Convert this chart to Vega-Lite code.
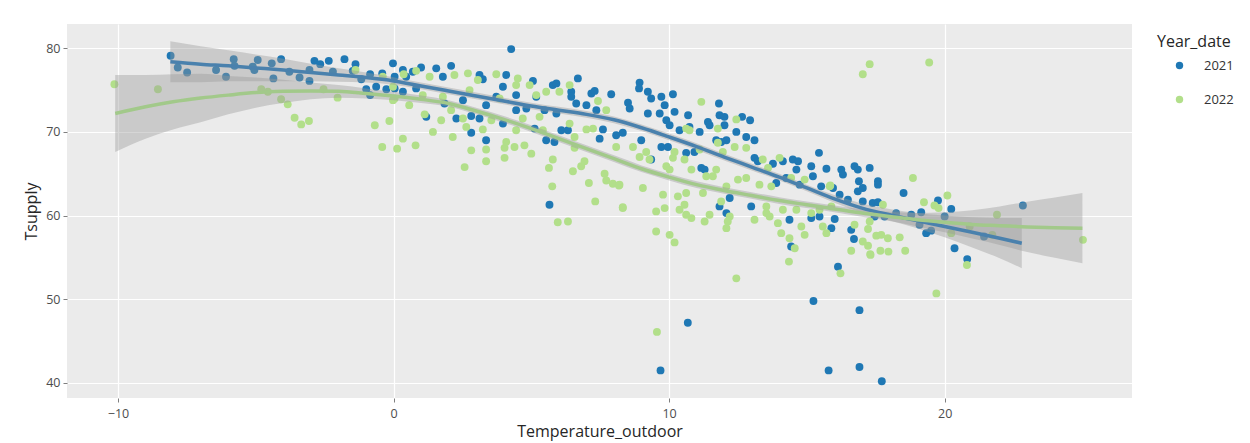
{
  "$schema": "https://vega.github.io/schema/vega-lite/v6.json",
  "width": 1065,
  "height": 374,
  "autosize": {"type": "none"},
  "padding": {"left": 67, "top": 24, "right": 118, "bottom": 45},
  "background": "white",
  "config": {
    "font": "Open Sans",
    "view": {"fill": "#ebebeb", "stroke": null},
    "axis": {
      "domain": false,
      "grid": true,
      "gridColor": "#ffffff",
      "gridWidth": 1.2,
      "tickColor": "#7f7f7f",
      "tickSize": 4,
      "labelColor": "#4d4d4d",
      "labelFontSize": 12.5,
      "titleColor": "#262626",
      "titleFontSize": 16,
      "titleFontWeight": "normal"
    }
  },
  "datasets": {
    "readings": [
      {"Temperature_outdoor": -8.09, "Tsupply": 79.1, "Year_date": "2021"},
      {"Temperature_outdoor": -7.83, "Tsupply": 77.7, "Year_date": "2021"},
      {"Temperature_outdoor": -7.49, "Tsupply": 77.1, "Year_date": "2021"},
      {"Temperature_outdoor": -6.44, "Tsupply": 77.4, "Year_date": "2021"},
      {"Temperature_outdoor": -6.08, "Tsupply": 76.6, "Year_date": "2021"},
      {"Temperature_outdoor": -5.8, "Tsupply": 78.7, "Year_date": "2021"},
      {"Temperature_outdoor": -5.77, "Tsupply": 77.9, "Year_date": "2021"},
      {"Temperature_outdoor": -5.11, "Tsupply": 77.8, "Year_date": "2021"},
      {"Temperature_outdoor": -4.93, "Tsupply": 78.6, "Year_date": "2021"},
      {"Temperature_outdoor": -5.05, "Tsupply": 77.4, "Year_date": "2021"},
      {"Temperature_outdoor": -4.42, "Tsupply": 78.2, "Year_date": "2021"},
      {"Temperature_outdoor": -4.36, "Tsupply": 76.4, "Year_date": "2021"},
      {"Temperature_outdoor": -4.08, "Tsupply": 78.7, "Year_date": "2021"},
      {"Temperature_outdoor": -3.78, "Tsupply": 77.2, "Year_date": "2021"},
      {"Temperature_outdoor": -3.41, "Tsupply": 76.5, "Year_date": "2021"},
      {"Temperature_outdoor": -3.05, "Tsupply": 76.1, "Year_date": "2021"},
      {"Temperature_outdoor": -2.87, "Tsupply": 78.5, "Year_date": "2021"},
      {"Temperature_outdoor": -2.66, "Tsupply": 78.1, "Year_date": "2021"},
      {"Temperature_outdoor": -2.35, "Tsupply": 78.5, "Year_date": "2021"},
      {"Temperature_outdoor": -1.78, "Tsupply": 78.7, "Year_date": "2021"},
      {"Temperature_outdoor": -1.38, "Tsupply": 78.1, "Year_date": "2021"},
      {"Temperature_outdoor": -1.48, "Tsupply": 77.3, "Year_date": "2021"},
      {"Temperature_outdoor": -2.2, "Tsupply": 77.2, "Year_date": "2021"},
      {"Temperature_outdoor": -3.05, "Tsupply": 77.4, "Year_date": "2021"},
      {"Temperature_outdoor": -0.85, "Tsupply": 76.9, "Year_date": "2021"},
      {"Temperature_outdoor": -1.17, "Tsupply": 76.3, "Year_date": "2021"},
      {"Temperature_outdoor": -0.99, "Tsupply": 75.1, "Year_date": "2021"},
      {"Temperature_outdoor": -0.85, "Tsupply": 74.4, "Year_date": "2021"},
      {"Temperature_outdoor": -0.63, "Tsupply": 75.4, "Year_date": "2021"},
      {"Temperature_outdoor": -0.41, "Tsupply": 77.0, "Year_date": "2021"},
      {"Temperature_outdoor": -0.26, "Tsupply": 75.1, "Year_date": "2021"},
      {"Temperature_outdoor": -0.02, "Tsupply": 78.2, "Year_date": "2021"},
      {"Temperature_outdoor": 0.04, "Tsupply": 76.6, "Year_date": "2021"},
      {"Temperature_outdoor": 0.34, "Tsupply": 77.4, "Year_date": "2021"},
      {"Temperature_outdoor": 0.46, "Tsupply": 76.6, "Year_date": "2021"},
      {"Temperature_outdoor": 0.7, "Tsupply": 77.2, "Year_date": "2021"},
      {"Temperature_outdoor": 1.0, "Tsupply": 77.7, "Year_date": "2021"},
      {"Temperature_outdoor": 1.55, "Tsupply": 77.6, "Year_date": "2021"},
      {"Temperature_outdoor": 2.09, "Tsupply": 77.9, "Year_date": "2021"},
      {"Temperature_outdoor": 1.79, "Tsupply": 76.6, "Year_date": "2021"},
      {"Temperature_outdoor": 3.12, "Tsupply": 76.8, "Year_date": "2021"},
      {"Temperature_outdoor": 3.24, "Tsupply": 76.3, "Year_date": "2021"},
      {"Temperature_outdoor": 4.09, "Tsupply": 76.8, "Year_date": "2021"},
      {"Temperature_outdoor": 4.27, "Tsupply": 79.9, "Year_date": "2021"},
      {"Temperature_outdoor": 5.06, "Tsupply": 76.1, "Year_date": "2021"},
      {"Temperature_outdoor": 5.78, "Tsupply": 75.6, "Year_date": "2021"},
      {"Temperature_outdoor": 5.91, "Tsupply": 75.8, "Year_date": "2021"},
      {"Temperature_outdoor": 6.45, "Tsupply": 74.8, "Year_date": "2021"},
      {"Temperature_outdoor": 6.69, "Tsupply": 76.4, "Year_date": "2021"},
      {"Temperature_outdoor": 7.18, "Tsupply": 74.6, "Year_date": "2021"},
      {"Temperature_outdoor": 7.3, "Tsupply": 74.9, "Year_date": "2021"},
      {"Temperature_outdoor": 7.9, "Tsupply": 74.5, "Year_date": "2021"},
      {"Temperature_outdoor": 8.51, "Tsupply": 73.5, "Year_date": "2021"},
      {"Temperature_outdoor": 8.57, "Tsupply": 72.8, "Year_date": "2021"},
      {"Temperature_outdoor": 7.6, "Tsupply": 70.3, "Year_date": "2021"},
      {"Temperature_outdoor": 7.36, "Tsupply": 72.6, "Year_date": "2021"},
      {"Temperature_outdoor": 7.0, "Tsupply": 73.2, "Year_date": "2021"},
      {"Temperature_outdoor": 6.63, "Tsupply": 73.4, "Year_date": "2021"},
      {"Temperature_outdoor": 6.45, "Tsupply": 74.2, "Year_date": "2021"},
      {"Temperature_outdoor": 7.48, "Tsupply": 69.2, "Year_date": "2021"},
      {"Temperature_outdoor": 8.08, "Tsupply": 69.6, "Year_date": "2021"},
      {"Temperature_outdoor": 6.09, "Tsupply": 70.2, "Year_date": "2021"},
      {"Temperature_outdoor": 6.33, "Tsupply": 70.2, "Year_date": "2021"},
      {"Temperature_outdoor": 5.84, "Tsupply": 68.8, "Year_date": "2021"},
      {"Temperature_outdoor": 5.66, "Tsupply": 61.3, "Year_date": "2021"},
      {"Temperature_outdoor": 5.54, "Tsupply": 69.0, "Year_date": "2021"},
      {"Temperature_outdoor": 5.12, "Tsupply": 70.4, "Year_date": "2021"},
      {"Temperature_outdoor": 4.82, "Tsupply": 72.8, "Year_date": "2021"},
      {"Temperature_outdoor": 4.45, "Tsupply": 72.6, "Year_date": "2021"},
      {"Temperature_outdoor": 3.97, "Tsupply": 71.0, "Year_date": "2021"},
      {"Temperature_outdoor": 3.36, "Tsupply": 69.0, "Year_date": "2021"},
      {"Temperature_outdoor": 3.12, "Tsupply": 71.6, "Year_date": "2021"},
      {"Temperature_outdoor": 2.82, "Tsupply": 71.9, "Year_date": "2021"},
      {"Temperature_outdoor": 2.82, "Tsupply": 69.9, "Year_date": "2021"},
      {"Temperature_outdoor": 2.28, "Tsupply": 71.6, "Year_date": "2021"},
      {"Temperature_outdoor": 2.52, "Tsupply": 73.8, "Year_date": "2021"},
      {"Temperature_outdoor": 1.85, "Tsupply": 73.4, "Year_date": "2021"},
      {"Temperature_outdoor": 1.19, "Tsupply": 71.8, "Year_date": "2021"},
      {"Temperature_outdoor": 0.34, "Tsupply": 74.8, "Year_date": "2021"},
      {"Temperature_outdoor": 0.04, "Tsupply": 75.2, "Year_date": "2021"},
      {"Temperature_outdoor": 0.82, "Tsupply": 75.2, "Year_date": "2021"},
      {"Temperature_outdoor": 3.36, "Tsupply": 73.2, "Year_date": "2021"},
      {"Temperature_outdoor": 3.73, "Tsupply": 74.2, "Year_date": "2021"},
      {"Temperature_outdoor": 3.97, "Tsupply": 75.4, "Year_date": "2021"},
      {"Temperature_outdoor": 4.45, "Tsupply": 74.4, "Year_date": "2021"},
      {"Temperature_outdoor": 5.18, "Tsupply": 74.2, "Year_date": "2021"},
      {"Temperature_outdoor": 5.48, "Tsupply": 72.6, "Year_date": "2021"},
      {"Temperature_outdoor": 5.91, "Tsupply": 72.2, "Year_date": "2021"},
      {"Temperature_outdoor": 8.93, "Tsupply": 75.9, "Year_date": "2021"},
      {"Temperature_outdoor": 8.91, "Tsupply": 75.2, "Year_date": "2021"},
      {"Temperature_outdoor": 9.23, "Tsupply": 74.8, "Year_date": "2021"},
      {"Temperature_outdoor": 9.35, "Tsupply": 74.0, "Year_date": "2021"},
      {"Temperature_outdoor": 9.72, "Tsupply": 74.2, "Year_date": "2021"},
      {"Temperature_outdoor": 10.14, "Tsupply": 74.5, "Year_date": "2021"},
      {"Temperature_outdoor": 9.84, "Tsupply": 73.2, "Year_date": "2021"},
      {"Temperature_outdoor": 9.23, "Tsupply": 72.2, "Year_date": "2021"},
      {"Temperature_outdoor": 9.66, "Tsupply": 72.2, "Year_date": "2021"},
      {"Temperature_outdoor": 10.2, "Tsupply": 72.4, "Year_date": "2021"},
      {"Temperature_outdoor": 9.9, "Tsupply": 71.4, "Year_date": "2021"},
      {"Temperature_outdoor": 10.02, "Tsupply": 70.8, "Year_date": "2021"},
      {"Temperature_outdoor": 10.69, "Tsupply": 72.0, "Year_date": "2021"},
      {"Temperature_outdoor": 10.38, "Tsupply": 70.2, "Year_date": "2021"},
      {"Temperature_outdoor": 10.74, "Tsupply": 70.6, "Year_date": "2021"},
      {"Temperature_outdoor": 11.11, "Tsupply": 70.0, "Year_date": "2021"},
      {"Temperature_outdoor": 11.41, "Tsupply": 71.2, "Year_date": "2021"},
      {"Temperature_outdoor": 11.47, "Tsupply": 70.8, "Year_date": "2021"},
      {"Temperature_outdoor": 11.81, "Tsupply": 73.4, "Year_date": "2021"},
      {"Temperature_outdoor": 11.83, "Tsupply": 72.0, "Year_date": "2021"},
      {"Temperature_outdoor": 12.01, "Tsupply": 71.8, "Year_date": "2021"},
      {"Temperature_outdoor": 12.01, "Tsupply": 70.8, "Year_date": "2021"},
      {"Temperature_outdoor": 12.44, "Tsupply": 70.0, "Year_date": "2021"},
      {"Temperature_outdoor": 12.65, "Tsupply": 71.8, "Year_date": "2021"},
      {"Temperature_outdoor": 12.94, "Tsupply": 71.4, "Year_date": "2021"},
      {"Temperature_outdoor": 12.8, "Tsupply": 69.4, "Year_date": "2021"},
      {"Temperature_outdoor": 13.1, "Tsupply": 69.0, "Year_date": "2021"},
      {"Temperature_outdoor": 12.08, "Tsupply": 69.0, "Year_date": "2021"},
      {"Temperature_outdoor": 11.71, "Tsupply": 69.0, "Year_date": "2021"},
      {"Temperature_outdoor": 8.32, "Tsupply": 69.9, "Year_date": "2021"},
      {"Temperature_outdoor": 8.99, "Tsupply": 69.0, "Year_date": "2021"},
      {"Temperature_outdoor": 9.35, "Tsupply": 66.7, "Year_date": "2021"},
      {"Temperature_outdoor": 9.72, "Tsupply": 68.2, "Year_date": "2021"},
      {"Temperature_outdoor": 9.96, "Tsupply": 68.2, "Year_date": "2021"},
      {"Temperature_outdoor": 10.62, "Tsupply": 67.5, "Year_date": "2021"},
      {"Temperature_outdoor": 10.92, "Tsupply": 67.6, "Year_date": "2021"},
      {"Temperature_outdoor": 11.17, "Tsupply": 65.7, "Year_date": "2021"},
      {"Temperature_outdoor": 11.29, "Tsupply": 65.5, "Year_date": "2021"},
      {"Temperature_outdoor": 11.89, "Tsupply": 68.8, "Year_date": "2021"},
      {"Temperature_outdoor": 13.1, "Tsupply": 66.9, "Year_date": "2021"},
      {"Temperature_outdoor": 13.22, "Tsupply": 66.5, "Year_date": "2021"},
      {"Temperature_outdoor": 13.77, "Tsupply": 66.2, "Year_date": "2021"},
      {"Temperature_outdoor": 14.13, "Tsupply": 66.5, "Year_date": "2021"},
      {"Temperature_outdoor": 14.49, "Tsupply": 66.7, "Year_date": "2021"},
      {"Temperature_outdoor": 14.68, "Tsupply": 66.5, "Year_date": "2021"},
      {"Temperature_outdoor": 15.44, "Tsupply": 67.5, "Year_date": "2021"},
      {"Temperature_outdoor": 15.71, "Tsupply": 65.6, "Year_date": "2021"},
      {"Temperature_outdoor": 15.16, "Tsupply": 65.9, "Year_date": "2021"},
      {"Temperature_outdoor": 14.62, "Tsupply": 65.5, "Year_date": "2021"},
      {"Temperature_outdoor": 14.25, "Tsupply": 64.5, "Year_date": "2021"},
      {"Temperature_outdoor": 13.89, "Tsupply": 63.9, "Year_date": "2021"},
      {"Temperature_outdoor": 14.74, "Tsupply": 63.7, "Year_date": "2021"},
      {"Temperature_outdoor": 15.22, "Tsupply": 64.7, "Year_date": "2021"},
      {"Temperature_outdoor": 15.52, "Tsupply": 63.5, "Year_date": "2021"},
      {"Temperature_outdoor": 12.2, "Tsupply": 62.1, "Year_date": "2021"},
      {"Temperature_outdoor": 11.83, "Tsupply": 61.1, "Year_date": "2021"},
      {"Temperature_outdoor": 12.08, "Tsupply": 60.3, "Year_date": "2021"},
      {"Temperature_outdoor": 12.98, "Tsupply": 61.1, "Year_date": "2021"},
      {"Temperature_outdoor": 14.37, "Tsupply": 59.5, "Year_date": "2021"},
      {"Temperature_outdoor": 14.43, "Tsupply": 56.3, "Year_date": "2021"},
      {"Temperature_outdoor": 15.16, "Tsupply": 59.7, "Year_date": "2021"},
      {"Temperature_outdoor": 15.46, "Tsupply": 59.9, "Year_date": "2021"},
      {"Temperature_outdoor": 15.89, "Tsupply": 58.5, "Year_date": "2021"},
      {"Temperature_outdoor": 16.13, "Tsupply": 53.9, "Year_date": "2021"},
      {"Temperature_outdoor": 16.25, "Tsupply": 65.5, "Year_date": "2021"},
      {"Temperature_outdoor": 16.31, "Tsupply": 64.9, "Year_date": "2021"},
      {"Temperature_outdoor": 16.73, "Tsupply": 65.9, "Year_date": "2021"},
      {"Temperature_outdoor": 16.85, "Tsupply": 65.5, "Year_date": "2021"},
      {"Temperature_outdoor": 17.28, "Tsupply": 65.7, "Year_date": "2021"},
      {"Temperature_outdoor": 17.58, "Tsupply": 64.1, "Year_date": "2021"},
      {"Temperature_outdoor": 17.58, "Tsupply": 63.7, "Year_date": "2021"},
      {"Temperature_outdoor": 16.89, "Tsupply": 64.1, "Year_date": "2021"},
      {"Temperature_outdoor": 17.03, "Tsupply": 63.3, "Year_date": "2021"},
      {"Temperature_outdoor": 16.85, "Tsupply": 62.9, "Year_date": "2021"},
      {"Temperature_outdoor": 15.95, "Tsupply": 63.3, "Year_date": "2021"},
      {"Temperature_outdoor": 16.19, "Tsupply": 62.5, "Year_date": "2021"},
      {"Temperature_outdoor": 16.49, "Tsupply": 61.9, "Year_date": "2021"},
      {"Temperature_outdoor": 17.03, "Tsupply": 61.7, "Year_date": "2021"},
      {"Temperature_outdoor": 17.39, "Tsupply": 61.5, "Year_date": "2021"},
      {"Temperature_outdoor": 17.58, "Tsupply": 61.6, "Year_date": "2021"},
      {"Temperature_outdoor": 18.51, "Tsupply": 62.7, "Year_date": "2021"},
      {"Temperature_outdoor": 16.01, "Tsupply": 59.6, "Year_date": "2021"},
      {"Temperature_outdoor": 16.61, "Tsupply": 58.3, "Year_date": "2021"},
      {"Temperature_outdoor": 16.71, "Tsupply": 57.2, "Year_date": "2021"},
      {"Temperature_outdoor": 17.46, "Tsupply": 59.9, "Year_date": "2021"},
      {"Temperature_outdoor": 17.82, "Tsupply": 59.9, "Year_date": "2021"},
      {"Temperature_outdoor": 18.24, "Tsupply": 60.3, "Year_date": "2021"},
      {"Temperature_outdoor": 18.79, "Tsupply": 60.1, "Year_date": "2021"},
      {"Temperature_outdoor": 19.15, "Tsupply": 60.4, "Year_date": "2021"},
      {"Temperature_outdoor": 19.76, "Tsupply": 61.8, "Year_date": "2021"},
      {"Temperature_outdoor": 20.24, "Tsupply": 60.8, "Year_date": "2021"},
      {"Temperature_outdoor": 20.0, "Tsupply": 59.9, "Year_date": "2021"},
      {"Temperature_outdoor": 19.09, "Tsupply": 58.9, "Year_date": "2021"},
      {"Temperature_outdoor": 19.33, "Tsupply": 57.9, "Year_date": "2021"},
      {"Temperature_outdoor": 19.51, "Tsupply": 58.2, "Year_date": "2021"},
      {"Temperature_outdoor": 20.36, "Tsupply": 56.1, "Year_date": "2021"},
      {"Temperature_outdoor": 20.82, "Tsupply": 54.8, "Year_date": "2021"},
      {"Temperature_outdoor": 21.43, "Tsupply": 57.5, "Year_date": "2021"},
      {"Temperature_outdoor": 22.84, "Tsupply": 61.2, "Year_date": "2021"},
      {"Temperature_outdoor": 15.24, "Tsupply": 49.8, "Year_date": "2021"},
      {"Temperature_outdoor": 16.91, "Tsupply": 48.7, "Year_date": "2021"},
      {"Temperature_outdoor": 10.68, "Tsupply": 47.2, "Year_date": "2021"},
      {"Temperature_outdoor": 9.69, "Tsupply": 41.5, "Year_date": "2021"},
      {"Temperature_outdoor": 15.79, "Tsupply": 41.5, "Year_date": "2021"},
      {"Temperature_outdoor": 16.91, "Tsupply": 41.9, "Year_date": "2021"},
      {"Temperature_outdoor": 17.72, "Tsupply": 40.2, "Year_date": "2021"},
      {"Temperature_outdoor": -10.13, "Tsupply": 75.7, "Year_date": "2022"},
      {"Temperature_outdoor": -8.55, "Tsupply": 75.1, "Year_date": "2022"},
      {"Temperature_outdoor": -4.8, "Tsupply": 75.1, "Year_date": "2022"},
      {"Temperature_outdoor": -4.56, "Tsupply": 74.8, "Year_date": "2022"},
      {"Temperature_outdoor": -4.08, "Tsupply": 73.9, "Year_date": "2022"},
      {"Temperature_outdoor": -3.84, "Tsupply": 73.3, "Year_date": "2022"},
      {"Temperature_outdoor": -3.59, "Tsupply": 71.7, "Year_date": "2022"},
      {"Temperature_outdoor": -3.35, "Tsupply": 70.9, "Year_date": "2022"},
      {"Temperature_outdoor": -3.07, "Tsupply": 71.3, "Year_date": "2022"},
      {"Temperature_outdoor": -2.54, "Tsupply": 75.1, "Year_date": "2022"},
      {"Temperature_outdoor": -2.03, "Tsupply": 74.1, "Year_date": "2022"},
      {"Temperature_outdoor": -1.38, "Tsupply": 77.4, "Year_date": "2022"},
      {"Temperature_outdoor": -0.68, "Tsupply": 70.8, "Year_date": "2022"},
      {"Temperature_outdoor": -0.15, "Tsupply": 71.3, "Year_date": "2022"},
      {"Temperature_outdoor": -0.41, "Tsupply": 68.2, "Year_date": "2022"},
      {"Temperature_outdoor": 0.13, "Tsupply": 68.0, "Year_date": "2022"},
      {"Temperature_outdoor": -0.39, "Tsupply": 76.6, "Year_date": "2022"},
      {"Temperature_outdoor": -0.02, "Tsupply": 75.4, "Year_date": "2022"},
      {"Temperature_outdoor": 0.04, "Tsupply": 74.0, "Year_date": "2022"},
      {"Temperature_outdoor": 0.34, "Tsupply": 69.2, "Year_date": "2022"},
      {"Temperature_outdoor": 0.8, "Tsupply": 68.4, "Year_date": "2022"},
      {"Temperature_outdoor": 0.37, "Tsupply": 76.9, "Year_date": "2022"},
      {"Temperature_outdoor": 0.57, "Tsupply": 73.2, "Year_date": "2022"},
      {"Temperature_outdoor": 0.82, "Tsupply": 77.3, "Year_date": "2022"},
      {"Temperature_outdoor": 1.31, "Tsupply": 76.6, "Year_date": "2022"},
      {"Temperature_outdoor": 2.21, "Tsupply": 76.8, "Year_date": "2022"},
      {"Temperature_outdoor": 2.7, "Tsupply": 77.0, "Year_date": "2022"},
      {"Temperature_outdoor": 3.06, "Tsupply": 76.2, "Year_date": "2022"},
      {"Temperature_outdoor": 3.73, "Tsupply": 76.9, "Year_date": "2022"},
      {"Temperature_outdoor": 4.51, "Tsupply": 76.4, "Year_date": "2022"},
      {"Temperature_outdoor": 4.94, "Tsupply": 75.6, "Year_date": "2022"},
      {"Temperature_outdoor": 5.54, "Tsupply": 74.8, "Year_date": "2022"},
      {"Temperature_outdoor": 6.02, "Tsupply": 74.8, "Year_date": "2022"},
      {"Temperature_outdoor": 6.39, "Tsupply": 75.6, "Year_date": "2022"},
      {"Temperature_outdoor": 7.42, "Tsupply": 73.7, "Year_date": "2022"},
      {"Temperature_outdoor": 7.72, "Tsupply": 72.6, "Year_date": "2022"},
      {"Temperature_outdoor": 1.13, "Tsupply": 72.1, "Year_date": "2022"},
      {"Temperature_outdoor": 1.43, "Tsupply": 70.0, "Year_date": "2022"},
      {"Temperature_outdoor": 1.73, "Tsupply": 71.4, "Year_date": "2022"},
      {"Temperature_outdoor": 2.09, "Tsupply": 72.6, "Year_date": "2022"},
      {"Temperature_outdoor": 2.15, "Tsupply": 69.4, "Year_date": "2022"},
      {"Temperature_outdoor": 2.52, "Tsupply": 71.6, "Year_date": "2022"},
      {"Temperature_outdoor": 2.64, "Tsupply": 70.6, "Year_date": "2022"},
      {"Temperature_outdoor": 2.82, "Tsupply": 67.8, "Year_date": "2022"},
      {"Temperature_outdoor": 2.58, "Tsupply": 65.8, "Year_date": "2022"},
      {"Temperature_outdoor": 3.24, "Tsupply": 70.3, "Year_date": "2022"},
      {"Temperature_outdoor": 3.36, "Tsupply": 67.9, "Year_date": "2022"},
      {"Temperature_outdoor": 3.36, "Tsupply": 66.5, "Year_date": "2022"},
      {"Temperature_outdoor": 3.55, "Tsupply": 71.4, "Year_date": "2022"},
      {"Temperature_outdoor": 4.03, "Tsupply": 68.1, "Year_date": "2022"},
      {"Temperature_outdoor": 4.03, "Tsupply": 66.9, "Year_date": "2022"},
      {"Temperature_outdoor": 4.09, "Tsupply": 68.8, "Year_date": "2022"},
      {"Temperature_outdoor": 4.39, "Tsupply": 68.2, "Year_date": "2022"},
      {"Temperature_outdoor": 4.45, "Tsupply": 70.2, "Year_date": "2022"},
      {"Temperature_outdoor": 4.75, "Tsupply": 68.4, "Year_date": "2022"},
      {"Temperature_outdoor": 5.0, "Tsupply": 67.4, "Year_date": "2022"},
      {"Temperature_outdoor": 5.3, "Tsupply": 71.8, "Year_date": "2022"},
      {"Temperature_outdoor": 5.78, "Tsupply": 66.7, "Year_date": "2022"},
      {"Temperature_outdoor": 5.64, "Tsupply": 65.7, "Year_date": "2022"},
      {"Temperature_outdoor": 5.76, "Tsupply": 63.5, "Year_date": "2022"},
      {"Temperature_outdoor": 5.96, "Tsupply": 59.2, "Year_date": "2022"},
      {"Temperature_outdoor": 6.33, "Tsupply": 59.3, "Year_date": "2022"},
      {"Temperature_outdoor": 6.39, "Tsupply": 71.0, "Year_date": "2022"},
      {"Temperature_outdoor": 6.57, "Tsupply": 68.1, "Year_date": "2022"},
      {"Temperature_outdoor": 6.51, "Tsupply": 65.3, "Year_date": "2022"},
      {"Temperature_outdoor": 6.81, "Tsupply": 65.9, "Year_date": "2022"},
      {"Temperature_outdoor": 6.93, "Tsupply": 66.5, "Year_date": "2022"},
      {"Temperature_outdoor": 7.09, "Tsupply": 63.9, "Year_date": "2022"},
      {"Temperature_outdoor": 7.0, "Tsupply": 70.3, "Year_date": "2022"},
      {"Temperature_outdoor": 7.24, "Tsupply": 70.4, "Year_date": "2022"},
      {"Temperature_outdoor": 7.32, "Tsupply": 61.7, "Year_date": "2022"},
      {"Temperature_outdoor": 7.66, "Tsupply": 65.0, "Year_date": "2022"},
      {"Temperature_outdoor": 7.72, "Tsupply": 64.2, "Year_date": "2022"},
      {"Temperature_outdoor": 7.96, "Tsupply": 63.8, "Year_date": "2022"},
      {"Temperature_outdoor": 8.18, "Tsupply": 63.6, "Year_date": "2022"},
      {"Temperature_outdoor": 8.32, "Tsupply": 60.9, "Year_date": "2022"},
      {"Temperature_outdoor": 8.08, "Tsupply": 68.2, "Year_date": "2022"},
      {"Temperature_outdoor": 2.76, "Tsupply": 75.0, "Year_date": "2022"},
      {"Temperature_outdoor": 1.79, "Tsupply": 74.2, "Year_date": "2022"},
      {"Temperature_outdoor": 1.06, "Tsupply": 74.4, "Year_date": "2022"},
      {"Temperature_outdoor": -0.02, "Tsupply": 73.8, "Year_date": "2022"},
      {"Temperature_outdoor": 5.18, "Tsupply": 74.4, "Year_date": "2022"},
      {"Temperature_outdoor": 4.45, "Tsupply": 75.6, "Year_date": "2022"},
      {"Temperature_outdoor": 3.85, "Tsupply": 74.0, "Year_date": "2022"},
      {"Temperature_outdoor": 4.69, "Tsupply": 71.6, "Year_date": "2022"},
      {"Temperature_outdoor": 5.42, "Tsupply": 70.2, "Year_date": "2022"},
      {"Temperature_outdoor": 6.57, "Tsupply": 69.4, "Year_date": "2022"},
      {"Temperature_outdoor": 11.17, "Tsupply": 73.6, "Year_date": "2022"},
      {"Temperature_outdoor": 12.44, "Tsupply": 71.5, "Year_date": "2022"},
      {"Temperature_outdoor": 10.62, "Tsupply": 70.4, "Year_date": "2022"},
      {"Temperature_outdoor": 10.74, "Tsupply": 70.2, "Year_date": "2022"},
      {"Temperature_outdoor": 11.77, "Tsupply": 70.4, "Year_date": "2022"},
      {"Temperature_outdoor": 8.69, "Tsupply": 68.2, "Year_date": "2022"},
      {"Temperature_outdoor": 9.17, "Tsupply": 67.6, "Year_date": "2022"},
      {"Temperature_outdoor": 8.93, "Tsupply": 67.0, "Year_date": "2022"},
      {"Temperature_outdoor": 9.29, "Tsupply": 66.7, "Year_date": "2022"},
      {"Temperature_outdoor": 10.2, "Tsupply": 67.6, "Year_date": "2022"},
      {"Temperature_outdoor": 10.14, "Tsupply": 66.9, "Year_date": "2022"},
      {"Temperature_outdoor": 10.56, "Tsupply": 66.7, "Year_date": "2022"},
      {"Temperature_outdoor": 11.11, "Tsupply": 67.9, "Year_date": "2022"},
      {"Temperature_outdoor": 11.77, "Tsupply": 68.7, "Year_date": "2022"},
      {"Temperature_outdoor": 11.95, "Tsupply": 67.6, "Year_date": "2022"},
      {"Temperature_outdoor": 12.38, "Tsupply": 68.2, "Year_date": "2022"},
      {"Temperature_outdoor": 12.8, "Tsupply": 68.1, "Year_date": "2022"},
      {"Temperature_outdoor": 13.4, "Tsupply": 66.7, "Year_date": "2022"},
      {"Temperature_outdoor": 14.01, "Tsupply": 66.9, "Year_date": "2022"},
      {"Temperature_outdoor": 9.9, "Tsupply": 65.9, "Year_date": "2022"},
      {"Temperature_outdoor": 10.02, "Tsupply": 65.5, "Year_date": "2022"},
      {"Temperature_outdoor": 10.81, "Tsupply": 65.5, "Year_date": "2022"},
      {"Temperature_outdoor": 11.35, "Tsupply": 64.7, "Year_date": "2022"},
      {"Temperature_outdoor": 11.71, "Tsupply": 65.5, "Year_date": "2022"},
      {"Temperature_outdoor": 11.59, "Tsupply": 64.7, "Year_date": "2022"},
      {"Temperature_outdoor": 12.5, "Tsupply": 64.3, "Year_date": "2022"},
      {"Temperature_outdoor": 12.8, "Tsupply": 64.5, "Year_date": "2022"},
      {"Temperature_outdoor": 13.28, "Tsupply": 63.7, "Year_date": "2022"},
      {"Temperature_outdoor": 13.59, "Tsupply": 65.7, "Year_date": "2022"},
      {"Temperature_outdoor": 13.71, "Tsupply": 63.5, "Year_date": "2022"},
      {"Temperature_outdoor": 14.43, "Tsupply": 64.5, "Year_date": "2022"},
      {"Temperature_outdoor": 14.92, "Tsupply": 64.3, "Year_date": "2022"},
      {"Temperature_outdoor": 15.83, "Tsupply": 63.5, "Year_date": "2022"},
      {"Temperature_outdoor": 8.2, "Tsupply": 63.7, "Year_date": "2022"},
      {"Temperature_outdoor": 9.05, "Tsupply": 63.3, "Year_date": "2022"},
      {"Temperature_outdoor": 9.78, "Tsupply": 62.5, "Year_date": "2022"},
      {"Temperature_outdoor": 10.32, "Tsupply": 62.3, "Year_date": "2022"},
      {"Temperature_outdoor": 10.62, "Tsupply": 62.7, "Year_date": "2022"},
      {"Temperature_outdoor": 11.23, "Tsupply": 62.7, "Year_date": "2022"},
      {"Temperature_outdoor": 11.89, "Tsupply": 61.7, "Year_date": "2022"},
      {"Temperature_outdoor": 12.08, "Tsupply": 63.5, "Year_date": "2022"},
      {"Temperature_outdoor": 10.56, "Tsupply": 61.3, "Year_date": "2022"},
      {"Temperature_outdoor": 10.62, "Tsupply": 60.1, "Year_date": "2022"},
      {"Temperature_outdoor": 10.81, "Tsupply": 59.7, "Year_date": "2022"},
      {"Temperature_outdoor": 11.47, "Tsupply": 60.1, "Year_date": "2022"},
      {"Temperature_outdoor": 12.2, "Tsupply": 59.9, "Year_date": "2022"},
      {"Temperature_outdoor": 11.29, "Tsupply": 59.3, "Year_date": "2022"},
      {"Temperature_outdoor": 12.13, "Tsupply": 59.3, "Year_date": "2022"},
      {"Temperature_outdoor": 12.08, "Tsupply": 58.5, "Year_date": "2022"},
      {"Temperature_outdoor": 13.1, "Tsupply": 59.5, "Year_date": "2022"},
      {"Temperature_outdoor": 13.53, "Tsupply": 60.3, "Year_date": "2022"},
      {"Temperature_outdoor": 13.95, "Tsupply": 59.1, "Year_date": "2022"},
      {"Temperature_outdoor": 14.07, "Tsupply": 57.9, "Year_date": "2022"},
      {"Temperature_outdoor": 14.37, "Tsupply": 57.3, "Year_date": "2022"},
      {"Temperature_outdoor": 14.8, "Tsupply": 58.7, "Year_date": "2022"},
      {"Temperature_outdoor": 14.92, "Tsupply": 57.7, "Year_date": "2022"},
      {"Temperature_outdoor": 14.56, "Tsupply": 56.1, "Year_date": "2022"},
      {"Temperature_outdoor": 14.35, "Tsupply": 54.5, "Year_date": "2022"},
      {"Temperature_outdoor": 15.71, "Tsupply": 57.9, "Year_date": "2022"},
      {"Temperature_outdoor": 9.53, "Tsupply": 60.5, "Year_date": "2022"},
      {"Temperature_outdoor": 9.53, "Tsupply": 58.1, "Year_date": "2022"},
      {"Temperature_outdoor": 10.02, "Tsupply": 57.7, "Year_date": "2022"},
      {"Temperature_outdoor": 10.2, "Tsupply": 56.8, "Year_date": "2022"},
      {"Temperature_outdoor": 9.84, "Tsupply": 60.9, "Year_date": "2022"},
      {"Temperature_outdoor": 8.32, "Tsupply": 61.0, "Year_date": "2022"},
      {"Temperature_outdoor": 10.38, "Tsupply": 60.7, "Year_date": "2022"},
      {"Temperature_outdoor": 13.53, "Tsupply": 61.1, "Year_date": "2022"},
      {"Temperature_outdoor": 13.65, "Tsupply": 59.9, "Year_date": "2022"},
      {"Temperature_outdoor": 14.13, "Tsupply": 60.7, "Year_date": "2022"},
      {"Temperature_outdoor": 14.62, "Tsupply": 60.7, "Year_date": "2022"},
      {"Temperature_outdoor": 15.16, "Tsupply": 60.3, "Year_date": "2022"},
      {"Temperature_outdoor": 15.46, "Tsupply": 60.7, "Year_date": "2022"},
      {"Temperature_outdoor": 15.89, "Tsupply": 61.1, "Year_date": "2022"},
      {"Temperature_outdoor": 18.85, "Tsupply": 64.5, "Year_date": "2022"},
      {"Temperature_outdoor": 15.85, "Tsupply": 63.6, "Year_date": "2022"},
      {"Temperature_outdoor": 17.76, "Tsupply": 61.3, "Year_date": "2022"},
      {"Temperature_outdoor": 19.25, "Tsupply": 61.6, "Year_date": "2022"},
      {"Temperature_outdoor": 20.1, "Tsupply": 62.4, "Year_date": "2022"},
      {"Temperature_outdoor": 19.63, "Tsupply": 61.2, "Year_date": "2022"},
      {"Temperature_outdoor": 19.78, "Tsupply": 60.9, "Year_date": "2022"},
      {"Temperature_outdoor": 21.9, "Tsupply": 60.1, "Year_date": "2022"},
      {"Temperature_outdoor": 16.73, "Tsupply": 58.9, "Year_date": "2022"},
      {"Temperature_outdoor": 17.28, "Tsupply": 59.3, "Year_date": "2022"},
      {"Temperature_outdoor": 17.22, "Tsupply": 58.4, "Year_date": "2022"},
      {"Temperature_outdoor": 15.58, "Tsupply": 58.7, "Year_date": "2022"},
      {"Temperature_outdoor": 17.52, "Tsupply": 57.6, "Year_date": "2022"},
      {"Temperature_outdoor": 17.7, "Tsupply": 57.7, "Year_date": "2022"},
      {"Temperature_outdoor": 17.94, "Tsupply": 57.3, "Year_date": "2022"},
      {"Temperature_outdoor": 18.37, "Tsupply": 57.4, "Year_date": "2022"},
      {"Temperature_outdoor": 17.03, "Tsupply": 56.9, "Year_date": "2022"},
      {"Temperature_outdoor": 17.22, "Tsupply": 56.4, "Year_date": "2022"},
      {"Temperature_outdoor": 16.61, "Tsupply": 55.8, "Year_date": "2022"},
      {"Temperature_outdoor": 17.3, "Tsupply": 55.4, "Year_date": "2022"},
      {"Temperature_outdoor": 17.67, "Tsupply": 55.8, "Year_date": "2022"},
      {"Temperature_outdoor": 17.96, "Tsupply": 55.7, "Year_date": "2022"},
      {"Temperature_outdoor": 18.57, "Tsupply": 55.8, "Year_date": "2022"},
      {"Temperature_outdoor": 16.22, "Tsupply": 53.1, "Year_date": "2022"},
      {"Temperature_outdoor": 20.81, "Tsupply": 54.1, "Year_date": "2022"},
      {"Temperature_outdoor": 19.7, "Tsupply": 50.7, "Year_date": "2022"},
      {"Temperature_outdoor": 20.24, "Tsupply": 57.9, "Year_date": "2022"},
      {"Temperature_outdoor": 20.91, "Tsupply": 58.7, "Year_date": "2022"},
      {"Temperature_outdoor": 21.73, "Tsupply": 57.7, "Year_date": "2022"},
      {"Temperature_outdoor": 25.02, "Tsupply": 57.1, "Year_date": "2022"},
      {"Temperature_outdoor": 17.03, "Tsupply": 76.9, "Year_date": "2022"},
      {"Temperature_outdoor": 17.28, "Tsupply": 78.1, "Year_date": "2022"},
      {"Temperature_outdoor": 19.44, "Tsupply": 78.3, "Year_date": "2022"},
      {"Temperature_outdoor": 12.44, "Tsupply": 52.5, "Year_date": "2022"},
      {"Temperature_outdoor": 9.56, "Tsupply": 46.1, "Year_date": "2022"},
      {"Temperature_outdoor": 17.31, "Tsupply": 55.3, "Year_date": "2022"}
    ],
    "smooth": [
      {"Year_date": "2021", "Temperature_outdoor": -8.1, "fit": 78.4, "lo": 75.95, "hi": 80.85},
      {"Year_date": "2021", "Temperature_outdoor": -7, "fit": 78.1, "lo": 75.95, "hi": 80.25},
      {"Year_date": "2021", "Temperature_outdoor": -6, "fit": 77.9, "lo": 76.05, "hi": 79.75},
      {"Year_date": "2021", "Temperature_outdoor": -5, "fit": 77.65, "lo": 76.05, "hi": 79.25},
      {"Year_date": "2021", "Temperature_outdoor": -4, "fit": 77.4, "lo": 76.05, "hi": 78.75},
      {"Year_date": "2021", "Temperature_outdoor": -3, "fit": 77.1, "lo": 76.05, "hi": 78.15},
      {"Year_date": "2021", "Temperature_outdoor": -2, "fit": 76.8, "lo": 76.0, "hi": 77.6},
      {"Year_date": "2021", "Temperature_outdoor": -1, "fit": 76.5, "lo": 75.9, "hi": 77.1},
      {"Year_date": "2021", "Temperature_outdoor": 0, "fit": 76.1, "lo": 75.65, "hi": 76.55},
      {"Year_date": "2021", "Temperature_outdoor": 1, "fit": 75.5, "lo": 75.1, "hi": 75.9},
      {"Year_date": "2021", "Temperature_outdoor": 2, "fit": 74.9, "lo": 74.5, "hi": 75.3},
      {"Year_date": "2021", "Temperature_outdoor": 3, "fit": 74.3, "lo": 73.9, "hi": 74.7},
      {"Year_date": "2021", "Temperature_outdoor": 4, "fit": 73.7, "lo": 73.3, "hi": 74.1},
      {"Year_date": "2021", "Temperature_outdoor": 5, "fit": 73.1, "lo": 72.7, "hi": 73.5},
      {"Year_date": "2021", "Temperature_outdoor": 6, "fit": 72.6, "lo": 72.2, "hi": 73.0},
      {"Year_date": "2021", "Temperature_outdoor": 7, "fit": 72.1, "lo": 71.7, "hi": 72.5},
      {"Year_date": "2021", "Temperature_outdoor": 8, "fit": 71.45, "lo": 71.05, "hi": 71.85},
      {"Year_date": "2021", "Temperature_outdoor": 9, "fit": 70.5, "lo": 70.1, "hi": 70.9},
      {"Year_date": "2021", "Temperature_outdoor": 10, "fit": 69.4, "lo": 69.0, "hi": 69.8},
      {"Year_date": "2021", "Temperature_outdoor": 11, "fit": 68.25, "lo": 67.85, "hi": 68.65},
      {"Year_date": "2021", "Temperature_outdoor": 12, "fit": 67.0, "lo": 66.6, "hi": 67.4},
      {"Year_date": "2021", "Temperature_outdoor": 13, "fit": 65.8, "lo": 65.4, "hi": 66.2},
      {"Year_date": "2021", "Temperature_outdoor": 14, "fit": 64.6, "lo": 64.2, "hi": 65.0},
      {"Year_date": "2021", "Temperature_outdoor": 15, "fit": 63.3, "lo": 62.9, "hi": 63.7},
      {"Year_date": "2021", "Temperature_outdoor": 16, "fit": 62.0, "lo": 61.55, "hi": 62.45},
      {"Year_date": "2021", "Temperature_outdoor": 17, "fit": 60.9, "lo": 60.35, "hi": 61.45},
      {"Year_date": "2021", "Temperature_outdoor": 18, "fit": 60.1, "lo": 59.4, "hi": 60.8},
      {"Year_date": "2021", "Temperature_outdoor": 19, "fit": 59.4, "lo": 58.5, "hi": 60.3},
      {"Year_date": "2021", "Temperature_outdoor": 20, "fit": 58.7, "lo": 57.4, "hi": 60.0},
      {"Year_date": "2021", "Temperature_outdoor": 21, "fit": 58.0, "lo": 56.2, "hi": 59.8},
      {"Year_date": "2021", "Temperature_outdoor": 22, "fit": 57.3, "lo": 54.9, "hi": 59.7},
      {"Year_date": "2021", "Temperature_outdoor": 22.8, "fit": 56.7, "lo": 53.7, "hi": 59.7},
      {"Year_date": "2022", "Temperature_outdoor": -10.1, "fit": 72.2, "lo": 67.6, "hi": 76.8},
      {"Year_date": "2022", "Temperature_outdoor": -9, "fit": 73.0, "lo": 69.2, "hi": 76.8},
      {"Year_date": "2022", "Temperature_outdoor": -8, "fit": 73.6, "lo": 70.3, "hi": 76.9},
      {"Year_date": "2022", "Temperature_outdoor": -7, "fit": 74.05, "lo": 71.15, "hi": 76.95},
      {"Year_date": "2022", "Temperature_outdoor": -6, "fit": 74.4, "lo": 72.1, "hi": 76.7},
      {"Year_date": "2022", "Temperature_outdoor": -5, "fit": 74.7, "lo": 72.9, "hi": 76.5},
      {"Year_date": "2022", "Temperature_outdoor": -4, "fit": 74.85, "lo": 73.45, "hi": 76.25},
      {"Year_date": "2022", "Temperature_outdoor": -3, "fit": 74.9, "lo": 73.9, "hi": 75.9},
      {"Year_date": "2022", "Temperature_outdoor": -2, "fit": 74.85, "lo": 74.1, "hi": 75.6},
      {"Year_date": "2022", "Temperature_outdoor": -1, "fit": 74.6, "lo": 74.0, "hi": 75.2},
      {"Year_date": "2022", "Temperature_outdoor": 0, "fit": 74.3, "lo": 73.8, "hi": 74.8},
      {"Year_date": "2022", "Temperature_outdoor": 1, "fit": 73.9, "lo": 73.45, "hi": 74.35},
      {"Year_date": "2022", "Temperature_outdoor": 2, "fit": 73.4, "lo": 73.0, "hi": 73.8},
      {"Year_date": "2022", "Temperature_outdoor": 3, "fit": 72.5, "lo": 72.1, "hi": 72.9},
      {"Year_date": "2022", "Temperature_outdoor": 4, "fit": 71.5, "lo": 71.1, "hi": 71.9},
      {"Year_date": "2022", "Temperature_outdoor": 5, "fit": 70.4, "lo": 70.0, "hi": 70.8},
      {"Year_date": "2022", "Temperature_outdoor": 6, "fit": 69.2, "lo": 68.8, "hi": 69.6},
      {"Year_date": "2022", "Temperature_outdoor": 7, "fit": 68.0, "lo": 67.6, "hi": 68.4},
      {"Year_date": "2022", "Temperature_outdoor": 8, "fit": 66.8, "lo": 66.4, "hi": 67.2},
      {"Year_date": "2022", "Temperature_outdoor": 9, "fit": 65.6, "lo": 65.2, "hi": 66.0},
      {"Year_date": "2022", "Temperature_outdoor": 10, "fit": 64.6, "lo": 64.2, "hi": 65.0},
      {"Year_date": "2022", "Temperature_outdoor": 11, "fit": 63.7, "lo": 63.3, "hi": 64.1},
      {"Year_date": "2022", "Temperature_outdoor": 12, "fit": 63.0, "lo": 62.6, "hi": 63.4},
      {"Year_date": "2022", "Temperature_outdoor": 13, "fit": 62.4, "lo": 62.0, "hi": 62.8},
      {"Year_date": "2022", "Temperature_outdoor": 14, "fit": 61.8, "lo": 61.4, "hi": 62.2},
      {"Year_date": "2022", "Temperature_outdoor": 15, "fit": 61.3, "lo": 60.9, "hi": 61.7},
      {"Year_date": "2022", "Temperature_outdoor": 16, "fit": 60.8, "lo": 60.4, "hi": 61.2},
      {"Year_date": "2022", "Temperature_outdoor": 17, "fit": 60.3, "lo": 59.85, "hi": 60.75},
      {"Year_date": "2022", "Temperature_outdoor": 18, "fit": 59.9, "lo": 59.35, "hi": 60.45},
      {"Year_date": "2022", "Temperature_outdoor": 19, "fit": 59.5, "lo": 58.7, "hi": 60.3},
      {"Year_date": "2022", "Temperature_outdoor": 20, "fit": 59.2, "lo": 58.0, "hi": 60.4},
      {"Year_date": "2022", "Temperature_outdoor": 21, "fit": 58.95, "lo": 57.25, "hi": 60.65},
      {"Year_date": "2022", "Temperature_outdoor": 22, "fit": 58.8, "lo": 56.5, "hi": 61.1},
      {"Year_date": "2022", "Temperature_outdoor": 23, "fit": 58.65, "lo": 55.65, "hi": 61.65},
      {"Year_date": "2022", "Temperature_outdoor": 24, "fit": 58.55, "lo": 54.95, "hi": 62.15},
      {"Year_date": "2022", "Temperature_outdoor": 25, "fit": 58.5, "lo": 54.3, "hi": 62.7}
    ]
  },
  "encoding": {
    "x": {
      "field": "Temperature_outdoor",
      "type": "quantitative",
      "scale": {"domain": [-11.85, 26.8], "nice": false, "zero": false},
      "axis": {"values": [-10, 0, 10, 20], "labelPadding": 5, "titlePadding": 4, "title": "Temperature_outdoor"}
    }
  },
  "layer": [
    {
      "data": {"name": "readings"},
      "mark": {"type": "circle", "size": 62, "opacity": 1},
      "encoding": {
        "y": {
          "field": "Tsupply",
          "type": "quantitative",
          "scale": {"domain": [38.2, 82.9], "nice": false, "zero": false},
          "axis": {"values": [40, 50, 60, 70, 80], "labelPadding": 3, "titlePadding": 6, "title": "Tsupply"}
        },
        "color": {
          "field": "Year_date",
          "type": "nominal",
          "scale": {"domain": ["2021", "2022"], "range": ["#1f78b4", "#b2df8a"]},
          "legend": {
            "title": "Year_date",
            "orient": "none",
            "legendX": 1090,
            "legendY": 10,
            "titleFontSize": 16,
            "titleFontWeight": "normal",
            "titleColor": "#262626",
            "titlePadding": 9,
            "labelFontSize": 13,
            "labelColor": "#333333",
            "symbolType": "circle",
            "symbolSize": 55,
            "symbolOffset": 16,
            "labelOffset": 18,
            "rowPadding": 20,
            "padding": 0
          }
        }
      }
    },
    {
      "data": {"name": "smooth"},
      "mark": {"type": "area", "color": "#999999", "opacity": 0.4, "interpolate": "monotone"},
      "encoding": {
        "y": {"field": "lo", "type": "quantitative"},
        "y2": {"field": "hi"},
        "detail": {"field": "Year_date", "type": "nominal"}
      }
    },
    {
      "data": {"name": "smooth"},
      "mark": {"type": "line", "strokeWidth": 3.5, "interpolate": "monotone"},
      "encoding": {
        "y": {"field": "fit", "type": "quantitative"},
        "stroke": {
          "field": "Year_date",
          "type": "nominal",
          "scale": {"domain": ["2021", "2022"], "range": ["#4a81ad", "#a2c98a"]},
          "legend": null
        }
      }
    }
  ],
  "resolve": {"scale": {"stroke": "independent"}}
}
